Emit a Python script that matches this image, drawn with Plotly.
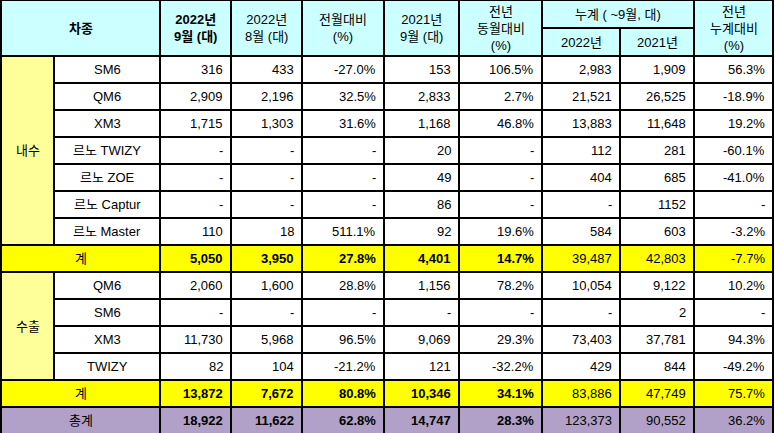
import plotly.graph_objects as go

# ---- data ----
domestic_models = ["SM6", "QM6", "XM3", "르노 TWIZY", "르노 ZOE", "르노 Captur", "르노 Master"]
domestic_rows = [
    ["316", "433", "-27.0%", "153", "106.5%", "2,983", "1,909", "56.3%"],
    ["2,909", "2,196", "32.5%", "2,833", "2.7%", "21,521", "26,525", "-18.9%"],
    ["1,715", "1,303", "31.6%", "1,168", "46.8%", "13,883", "11,648", "19.2%"],
    ["-", "-", "-", "20", "-", "112", "281", "-60.1%"],
    ["-", "-", "-", "49", "-", "404", "685", "-41.0%"],
    ["-", "-", "-", "86", "-", "-", "1152", "-"],
    ["110", "18", "511.1%", "92", "19.6%", "584", "603", "-3.2%"],
]
domestic_total = ["5,050", "3,950", "27.8%", "4,401", "14.7%", "39,487", "42,803", "-7.7%"]
export_models = ["QM6", "SM6", "XM3", "TWIZY"]
export_rows = [
    ["2,060", "1,600", "28.8%", "1,156", "78.2%", "10,054", "9,122", "10.2%"],
    ["-", "-", "-", "-", "-", "-", "2", "-"],
    ["11,730", "5,968", "96.5%", "9,069", "29.3%", "73,403", "37,781", "94.3%"],
    ["82", "104", "-21.2%", "121", "-32.2%", "429", "844", "-49.2%"],
]
export_total = ["13,872", "7,672", "80.8%", "10,346", "34.1%", "83,886", "47,749", "75.7%"]
grand_total = ["18,922", "11,622", "62.8%", "14,747", "28.3%", "123,373", "90,552", "36.2%"]
group_labels = ["내수", "수출"]
total_label, grand_label = "계", "총계"
headers = ["차종", "2022년<br>9월 (대)", "2022년<br>8월 (대)", "전월대비<br>(%)", "2021년<br>9월 (대)",
           "전년<br>동월대비<br>(%)", "누계 ( ~9월, 대)", "2022년", "2021년", "전년<br>누계대비<br>(%)"]

# ---- layout geometry ----
W, H = 775, 433
X = [1, 54, 160, 231, 302, 384, 459, 542, 620, 694, 773]
HDR, RH = 56, 27
CYAN, LY, YEL, PUR = "#CCFFFF", "#FFFF99", "#FFFF00", "#B1A0C7"
FONT = "Liberation Sans, Noto Sans CJK KR, Arial"

shapes, ann = [], []

def cell(x0, x1, y0, y1, fill):
    shapes.append(dict(type="rect", xref="x", yref="y", x0=x0, x1=x1, y0=y0, y1=y1,
                       fillcolor=fill, line=dict(color="black", width=2), layer="below"))

def text(t, x0, x1, y0, y1, align="center", bold=False):
    if align == "right":
        x, xa = x1 - 6, "right"
    else:
        x, xa = (x0 + x1) / 2, "center"
    ann.append(dict(x=x, y=(y0 + y1) / 2, xref="x", yref="y", text=f"<b>{t}</b>" if bold else t,
                    showarrow=False, xanchor=xa, yanchor="middle", align="center",
                    font=dict(size=13, color="black", family=FONT)))

half = HDR / 2
cell(X[0], X[2], 0, HDR, CYAN); text(headers[0], X[0], X[2], 0, HDR, bold=True)
for i in range(1, 6):
    cell(X[i + 1], X[i + 2], 0, HDR, CYAN); text(headers[i], X[i + 1], X[i + 2], 0, HDR, bold=(i == 1))
cell(X[7], X[9], 0, half, CYAN); text(headers[6], X[7], X[9], 0, half)
cell(X[7], X[8], half, HDR, CYAN); text(headers[7], X[7], X[8], half, HDR)
cell(X[8], X[9], half, HDR, CYAN); text(headers[8], X[8], X[9], half, HDR)
cell(X[9], X[10], 0, HDR, CYAN); text(headers[9], X[9], X[10], 0, HDR)

y = HDR
def summary(label, vals, fill):
    global y
    cell(X[0], X[2], y, y + RH, fill); text(label, X[0], X[2], y, y + RH)
    for j, v in enumerate(vals):
        cell(X[j + 2], X[j + 3], y, y + RH, fill)
        text(v, X[j + 2], X[j + 3], y, y + RH, "right", bold=(j < 5))
    y += RH

def block(label, models, rows, total):
    global y
    y0 = y
    for m, r in zip(models, rows):
        cell(X[1], X[2], y, y + RH, "white"); text(m, X[1], X[2], y, y + RH)
        for j, v in enumerate(r):
            cell(X[j + 2], X[j + 3], y, y + RH, "white"); text(v, X[j + 2], X[j + 3], y, y + RH, "right")
        y += RH
    cell(X[0], X[1], y0, y, LY); text(label, X[0], X[1], y0, y)
    summary(total_label, total, YEL)

block(group_labels[0], domestic_models, domestic_rows, domestic_total)
block(group_labels[1], export_models, export_rows, export_total)
summary(grand_label, grand_total, PUR)

fig = go.Figure()
fig.update_layout(width=W, height=H, margin=dict(l=0, r=0, t=0, b=0),
                  plot_bgcolor="white", paper_bgcolor="white", shapes=shapes, annotations=ann,
                  xaxis=dict(range=[0, W], visible=False, fixedrange=True),
                  yaxis=dict(range=[H, 0], visible=False, fixedrange=True), showlegend=False)
fig.write_html("out.html", config={"displayModeBar": False})

with open("out.html", encoding="utf-8") as f:
    html = f.read()
html = html.replace("<head>", "<head><style>html,body{margin:0;padding:0;overflow:hidden}</style>", 1)
with open("out.html", "w", encoding="utf-8") as f:
    f.write(html)
